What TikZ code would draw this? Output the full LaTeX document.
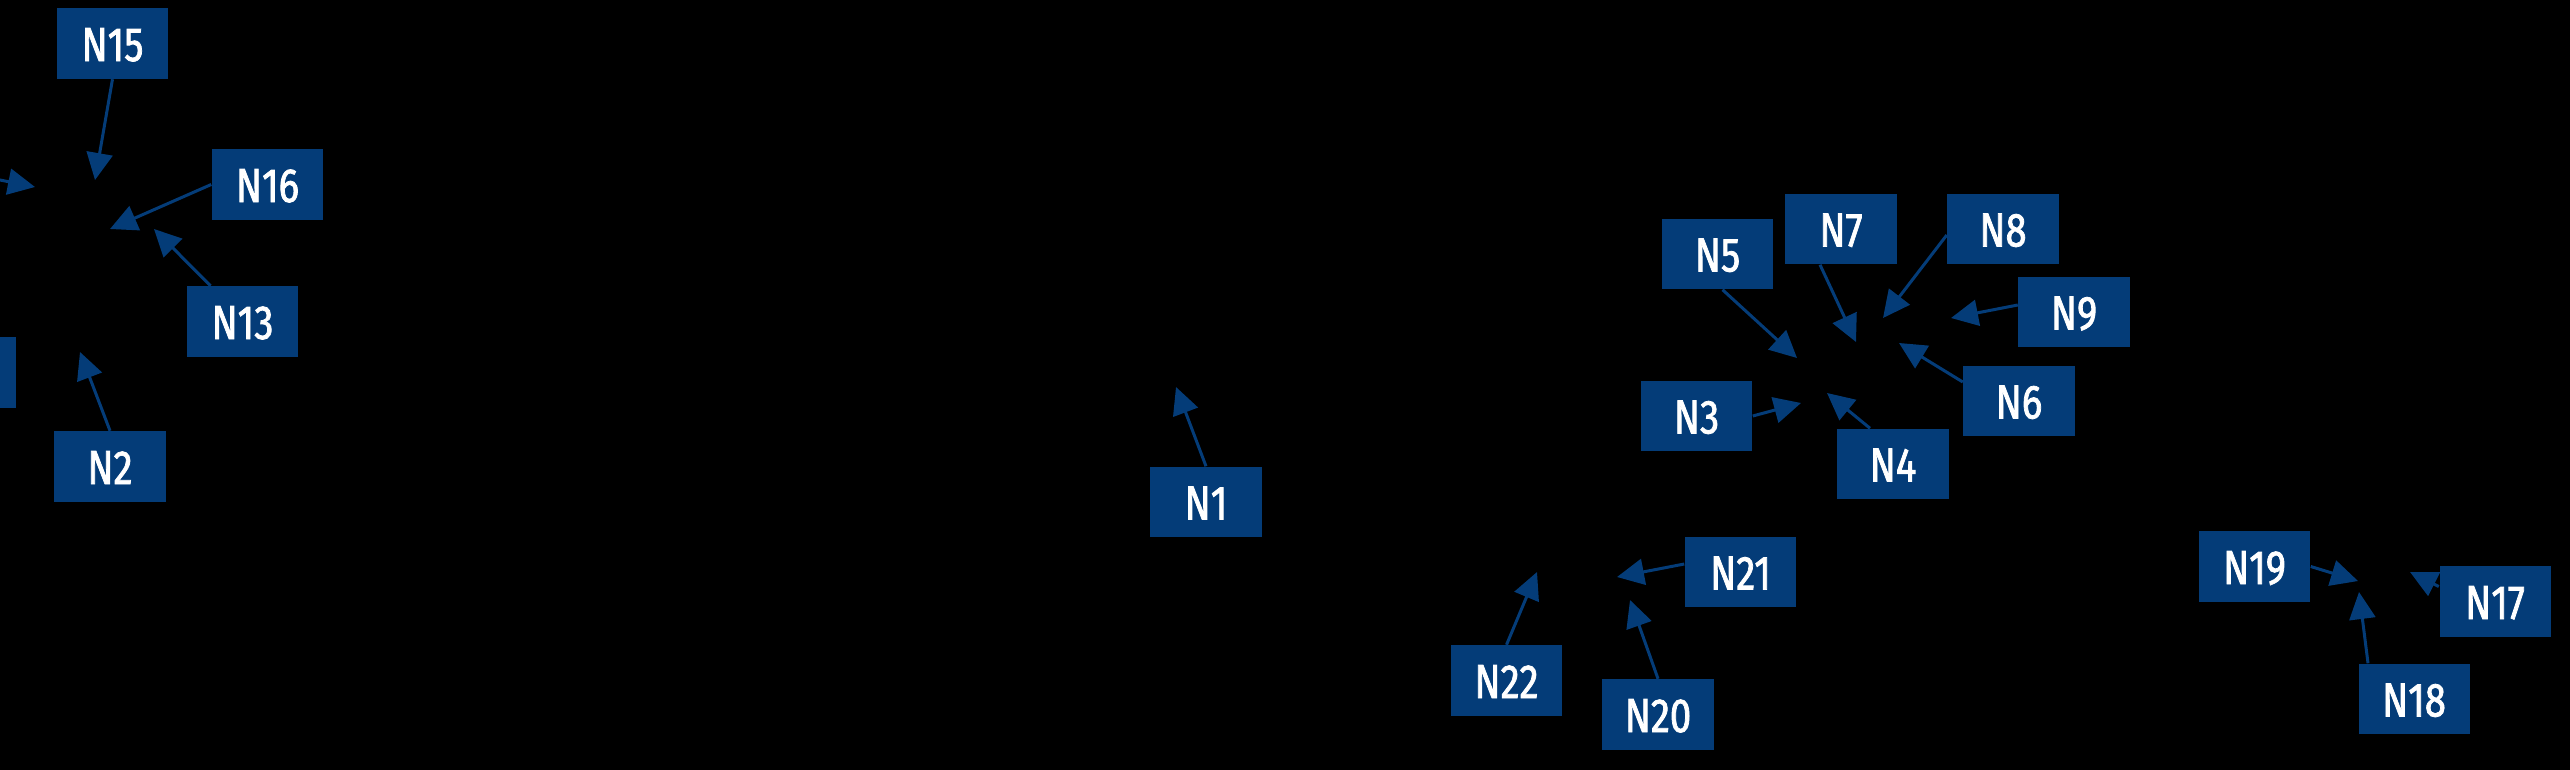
\documentclass[tikz,border=0pt]{standalone}
\usepackage{fontspec}
\newfontfamily\labfont[FakeStretch=0.80,FakeBold=1.6]{Fira Sans}
\usetikzlibrary{arrows.meta,calc}
\definecolor{boxblue}{RGB}{4,60,120}
\tikzset{
  nbox/.style={fill=boxblue, text=white, inner sep=0pt, minimum width=1.11cm, minimum height=0.70cm, text height=0.36cm, text depth=0.01cm, font=\labfont\fontsize{13.6}{14}\selectfont},
  conn/.style={draw=boxblue, line width=0.03cm, -{Triangle[length=0.27cm, width=0.26cm]}}
}
\begin{document}
\begin{tikzpicture}[x=0.01cm, y=-0.01cm]
\fill[black] (0,0) rectangle (2570,770);
\useasboundingbox (0,0) rectangle (2570,770);
\clip (0,0) rectangle (2570,770);
% target points
\coordinate (t15) at (95,180);
\coordinate (tw) at (35,187);
\coordinate (w0) at (-100,160);
\coordinate (t16) at (110,229);
\coordinate (t13) at (154,229);
\coordinate (t2) at (80,352);
\coordinate (t1) at (1176,387);
\coordinate (t5) at (1797,358);
\coordinate (t7) at (1856,342);
\coordinate (t8) at (1883,318);
\coordinate (t9) at (1951,318);
\coordinate (t6) at (1899,343);
\coordinate (t3) at (1801,403);
\coordinate (t4) at (1827,393);
\coordinate (t22) at (1537,572);
\coordinate (t20) at (1630,600);
\coordinate (t21) at (1617,577);
\coordinate (t19) at (2358,581);
\coordinate (t17) at (2410,572);
\coordinate (t18) at (2359,592);
% nodes
\node[nbox] (n15) at (112.5,43.5) {N15};
\node[nbox] (n16) at (267.5,184.5) {N16};
\node[nbox] (n13) at (242.5,321.5) {N13};
\node[nbox] (n2) at (110,466.5) {N2};
\node[nbox, minimum width=1.13cm] (nx) at (-40.5,372.5) {};
\node[nbox] (n1) at (1206,502) {N1};
\node[nbox] (n5) at (1717.5,254) {N5};
\node[nbox] (n7) at (1841,229) {N7};
\node[nbox] (n8) at (2003,229) {N8};
\node[nbox] (n9) at (2074,312) {N9};
\node[nbox] (n6) at (2019,401) {N6};
\node[nbox] (n3) at (1696.5,416) {N3};
\node[nbox] (n4) at (1893,464) {N4};
\node[nbox] (n22) at (1506.5,680.5) {N22};
\node[nbox] (n20) at (1658,714.5) {N20};
\node[nbox] (n21) at (1740.5,572) {N21};
\node[nbox] (n19) at (2254.5,566.5) {N19};
\node[nbox] (n17) at (2495,601.5) {N17};
\node[nbox] (n18) at (2414,699) {N18};
% connectors
\draw[conn] (n15.south) -- (t15);
\draw[conn] (w0) -- (tw);
\draw[conn] (n16.west) -- (t16);
\draw[conn] ($(n13.north)+(-32,0)$) -- (t13);
\draw[conn] (n2.north) -- (t2);
\draw[conn] (n1.north) -- (t1);
\draw[conn] ($(n5.south)+(5,0)$) -- (t5);
\draw[conn] ($(n7.south)+(-21,0)$) -- (t7);
\draw[conn] ($(n8.west)+(0,6)$) -- (t8);
\draw[conn] ($(n9.west)+(0,-7)$) -- (t9);
\draw[conn] ($(n6.west)+(0,-19)$) -- (t6);
\draw[conn] (n3.east) -- (t3);
\draw[conn] ($(n4.north)+(-23,0)$) -- (t4);
\draw[conn] (n22.north) -- (t22);
\draw[conn] (n20.north) -- (t20);
\draw[conn] ($(n21.west)+(0,-8)$) -- (t21);
\draw[conn] (n19.east) -- (t19);
\draw[conn] ($(n17.west)+(0,-15)$) -- (t17);
\draw[conn] ($(n18.north)+(-46,0)$) -- (t18);
\end{tikzpicture}
\end{document}
